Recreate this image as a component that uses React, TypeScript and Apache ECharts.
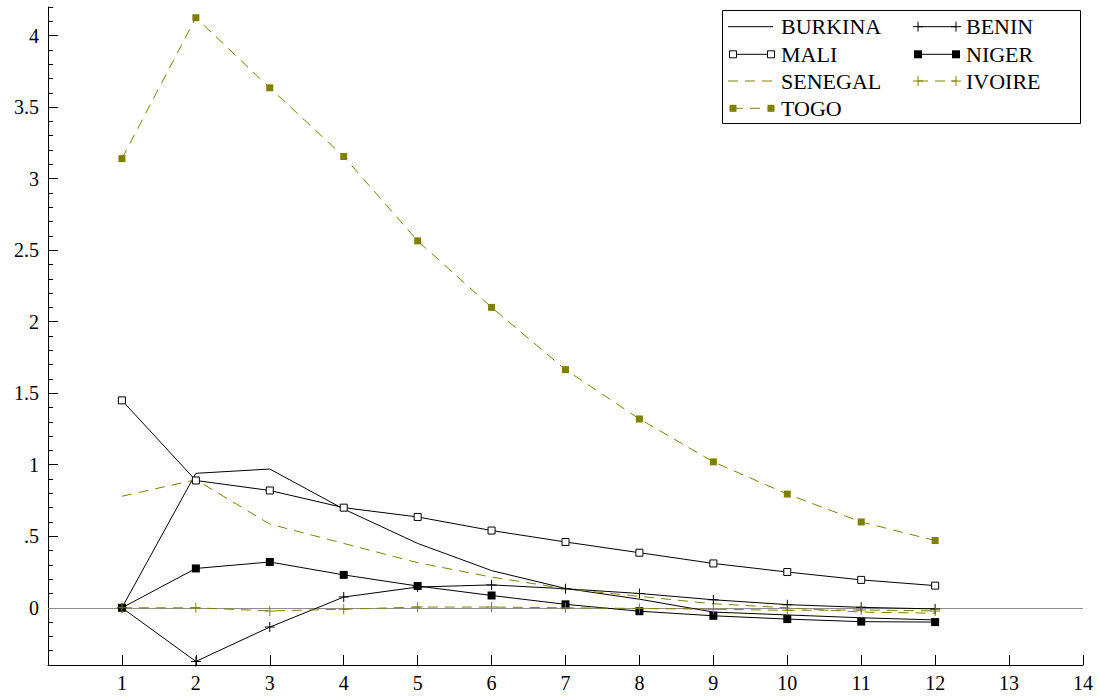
import React, { useEffect, useRef } from 'react';
import * as echarts from 'echarts';

const X_VALUES = [1, 2, 3, 4, 5, 6, 7, 8, 9, 10, 11, 12];
const BURKINA = [0, 0.94, 0.97, 0.69, 0.45, 0.26, 0.135, 0.06, -0.03, -0.05, -0.07, -0.085];
const BENIN = [0, -0.375, -0.135, 0.075, 0.145, 0.16, 0.133, 0.1, 0.056, 0.022, 0.003, -0.008];
const MALI = [1.45, 0.89, 0.82, 0.7, 0.635, 0.54, 0.46, 0.385, 0.31, 0.25, 0.195, 0.155];
const NIGER = [0, 0.275, 0.32, 0.23, 0.152, 0.086, 0.024, -0.024, -0.056, -0.079, -0.097, -0.1];
const SENEGAL = [0.78, 0.895, 0.585, 0.45, 0.315, 0.215, 0.133, 0.08, 0.028, 0.0, -0.03, -0.038];
const IVOIRE = [0, 0, -0.022, -0.01, 0.005, 0.005, 0, -0.005, -0.01, -0.018, -0.015, -0.022];
const TOGO = [3.14, 4.125, 3.635, 3.155, 2.565, 2.1, 1.665, 1.32, 1.02, 0.795, 0.6, 0.47];

const SERIES_NAMES = ['BURKINA', 'BENIN', 'MALI', 'NIGER', 'SENEGAL', 'IVOIRE', 'TOGO'];
const SERIES_VALUES = [BURKINA, BENIN, MALI, NIGER, SENEGAL, IVOIRE, TOGO];
const Y_MAJOR_TICKS = [0, 0.5, 1, 1.5, 2, 2.5, 3, 3.5, 4];
const X_MIN = 0;
const X_MAX = 14;
const Y_MIN = -0.4;
const Y_MAX = 4.2;

const OLIVE = '#808000';
const FONT = '"Liberation Serif", "Times New Roman", Times, serif';
const PLUS_PATH = 'path://M4.5,0H5.5V4.5H10V5.5H5.5V10H4.5V5.5H0V4.5H4.5Z';

type Style = { color: string; dashed: boolean; marker: 'none' | 'plus' | 'open' | 'filled'; size: number };
const STYLES: Record<string, Style> = {
  BURKINA: { color: '#000', dashed: false, marker: 'none', size: 0 },
  BENIN: { color: '#000', dashed: false, marker: 'plus', size: 10 },
  MALI: { color: '#000', dashed: false, marker: 'open', size: 7 },
  NIGER: { color: '#000', dashed: false, marker: 'filled', size: 8 },
  SENEGAL: { color: OLIVE, dashed: true, marker: 'none', size: 0 },
  IVOIRE: { color: OLIVE, dashed: true, marker: 'plus', size: 10 },
  TOGO: { color: OLIVE, dashed: true, marker: 'filled', size: 7 },
};
const DASH = [10, 7];

function buildSeries() {
  return SERIES_NAMES.map((name, i) => {
    const st = STYLES[name];
    const data = X_VALUES.map((x, j) => [x, SERIES_VALUES[i][j]]);
    let symbol: string = 'none';
    let itemStyle: any = { color: st.color };
    if (st.marker === 'plus') {
      symbol = PLUS_PATH;
      itemStyle = { color: st.color, borderWidth: 0 };
    } else if (st.marker === 'open') {
      symbol = 'rect';
      itemStyle = { color: '#fff', borderColor: st.color, borderWidth: 1 };
    } else if (st.marker === 'filled') {
      symbol = 'rect';
      itemStyle = { color: st.color };
    }
    const s: any = {
      name,
      type: 'line',
      data,
      symbol,
      symbolSize: st.size,
      showSymbol: st.marker !== 'none',
      showAllSymbol: true,
      itemStyle,
      lineStyle: { color: st.color, width: 1, type: st.dashed ? DASH : 'solid' },
      emphasis: { disabled: true },
      z: 3,
    };
    if (i === 0) {
      s.markLine = {
        silent: true,
        symbol: ['none', 'none'],
        label: { show: false },
        lineStyle: { color: '#8c8c8c', type: 'solid', width: 1 },
        data: [{ yAxis: 0 }],
        z: 1,
      };
    }
    return s;
  });
}

function buildLegend() {
  const cols = [728, 913];
  const rows = [26.7, 54.3, 81, 108.3];
  const order = ['BURKINA', 'BENIN', 'MALI', 'NIGER', 'SENEGAL', 'IVOIRE', 'TOGO'];
  const els: any[] = [
    {
      type: 'rect',
      shape: { x: 722.5, y: 10.5, width: 358, height: 113 },
      style: { fill: '#fff', stroke: '#000', lineWidth: 1 },
      z: 10,
    },
  ];
  order.forEach((name, k) => {
    const st = STYLES[name];
    const x0 = cols[k % 2];
    const y = rows[Math.floor(k / 2)];
    const lineStart = st.marker === 'none' ? x0 : x0 + 5;
    const lineEnd = st.marker === 'none' ? x0 + 45 : x0 + 43;
    els.push({
      type: 'line',
      shape: { x1: lineStart, y1: y, x2: lineEnd, y2: y },
      style: { stroke: st.color, lineWidth: 1, lineDash: st.dashed ? DASH : null },
      z: 11,
    });
    [x0 + 5, x0 + 43].forEach((cx) => {
      if (st.marker === 'plus') {
        els.push({ type: 'line', shape: { x1: cx - 5, y1: y, x2: cx + 5, y2: y }, style: { stroke: st.color, lineWidth: 1 }, z: 12 });
        els.push({ type: 'line', shape: { x1: cx, y1: y - 5, x2: cx, y2: y + 5 }, style: { stroke: st.color, lineWidth: 1 }, z: 12 });
      } else if (st.marker === 'open') {
        const h = st.size / 2;
        els.push({ type: 'rect', shape: { x: cx - h, y: y - h, width: st.size, height: st.size }, style: { fill: '#fff', stroke: st.color, lineWidth: 1 }, z: 12 });
      } else if (st.marker === 'filled') {
        const h = st.size / 2;
        els.push({ type: 'rect', shape: { x: cx - h, y: y - h, width: st.size, height: st.size }, style: { fill: st.color }, z: 12 });
      }
    });
    els.push({
      type: 'text',
      style: { text: name, x: x0 + 53, y, fill: '#000', fontSize: 22, fontFamily: FONT, verticalAlign: 'middle', align: 'left' },
      z: 12,
    });
  });
  return els;
}

export default function App() {
  const ref = useRef<HTMLDivElement>(null);
  useEffect(() => {
    if (!ref.current) return;
    const chart = echarts.init(ref.current, null, { renderer: 'svg' });
    const option: any = {
      animation: false,
      backgroundColor: '#fff',
      textStyle: { fontFamily: FONT },
      grid: { left: 48, right: 16, top: 7, bottom: 35, containLabel: false },
      xAxis: {
        type: 'value',
        min: X_MIN,
        max: X_MAX,
        interval: 1,
        axisLine: { show: true, onZero: false, lineStyle: { color: '#000', width: 1 } },
        axisTick: { show: true, inside: true, length: 10, lineStyle: { color: '#000' } },
        axisLabel: {
          color: '#000',
          fontSize: 20,
          fontFamily: FONT,
          margin: 8,
          formatter: (v: number) => (v === 0 ? '' : String(v)),
        },
        splitLine: { show: false },
      },
      yAxis: [
        {
          type: 'value',
          min: Y_MIN,
          max: Y_MAX,
          interval: 0.1,
          axisLine: { show: true, onZero: false, lineStyle: { color: '#000', width: 1 } },
          axisTick: { show: true, inside: true, length: 5, lineStyle: { color: '#000' } },
          axisLabel: { show: false },
          splitLine: { show: false },
        },
        {
          type: 'value',
          position: 'left',
          min: Y_MIN,
          max: Y_MAX,
          axisLine: { show: false, onZero: false },
          axisTick: { show: true, inside: true, length: 10, customValues: Y_MAJOR_TICKS, lineStyle: { color: '#000' } },
          axisLabel: {
            customValues: Y_MAJOR_TICKS,
            color: '#000',
            fontSize: 20,
            fontFamily: FONT,
            margin: 9,
            formatter: (v: number) => (Math.abs(v - 0.5) < 1e-9 ? '.5' : String(v)),
          },
          splitLine: { show: false },
        },
      ],
      series: buildSeries(),
      graphic: buildLegend(),
    };
    chart.setOption(option);
    return () => chart.dispose();
  }, []);
  return (
    <div
      ref={ref}
      style={{ position: 'fixed', left: 0, top: 0, width: 1099, height: 700, background: '#fff' }}
    />
  );
}
